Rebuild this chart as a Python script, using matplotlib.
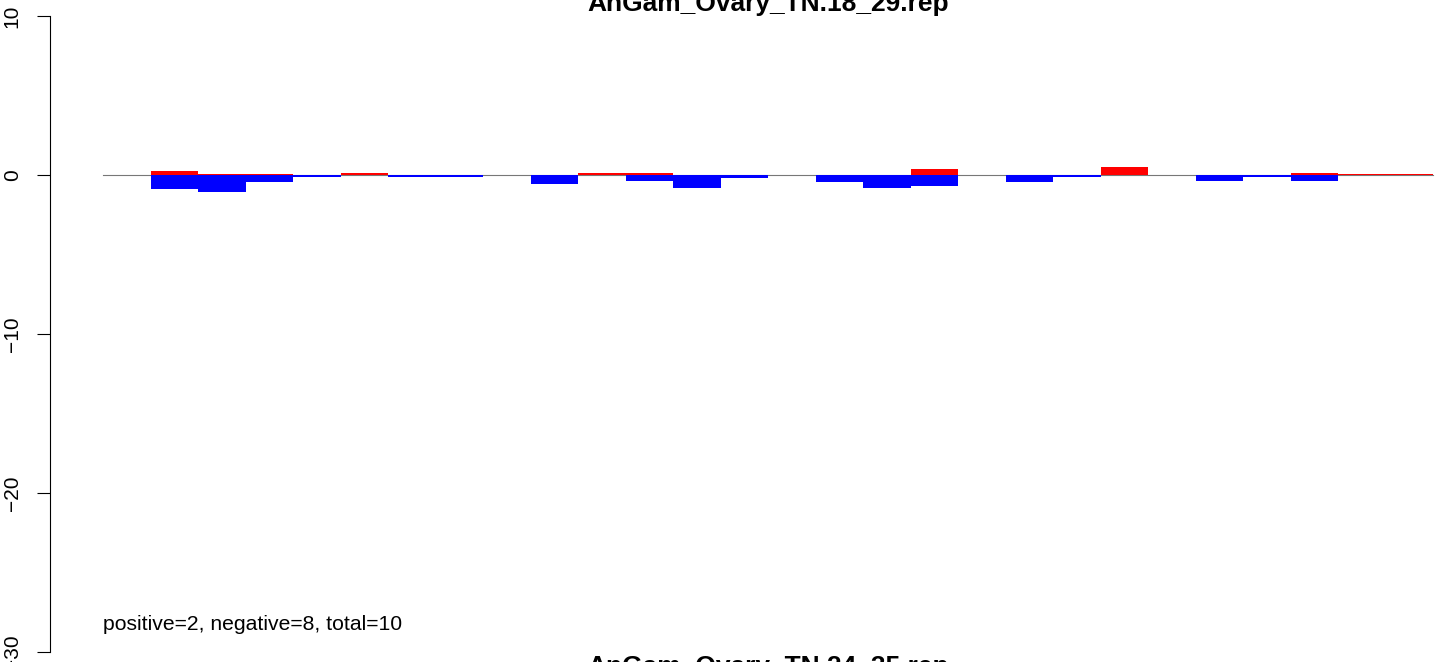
import matplotlib
matplotlib.use("Agg")
import matplotlib.pyplot as plt
import numpy as np

plt.rcParams['font.family'] = ['Liberation Sans', 'DejaVu Sans']

title_top = "AnGam_Ovary_TN.18_29.rep"
title_bottom = "AnGam_Ovary_TN.24_35.rep"
summary = "positive=2, negative=8, total=10"

# per-slot values (28 slots), red = positive part, blue = negative part
pos = [0, 0.25, 0.06, 0.06, 0, 0.1, 0, 0, 0,
       0, 0.1, 0.1, 0, 0, 0,
       0, 0, 0.38, 0,
       0, 0, 0.5, 0,
       0, 0, 0.15, 0.08, 0.08]
neg = [0, -0.88, -1.07, -0.44, -0.12, 0, -0.12, -0.12, 0,
       -0.57, 0, -0.38, -0.8, -0.2, 0,
       -0.44, -0.8, -0.69, 0,
       -0.44, -0.12, 0, 0,
       -0.38, -0.12, -0.38, 0, 0]
yticks = [-30, -20, -10, 0, 10]

W, H = 1444, 662
fig = plt.figure(figsize=(W / 100, H / 100), dpi=100)
ax = fig.add_axes([50 / W, 10 / H, (1440 - 50) / W, 636 / H])

n = len(pos)
slot = (1433 - 103) / n
x = np.arange(n)
ax.plot([0, n], [0, 0], color='#777777', lw=0.8, zorder=1)
ax.bar(x, pos, width=1, align='edge', color='#ff0000', linewidth=0, zorder=2)
ax.bar(x, neg, width=1, align='edge', color='#0000ff', linewidth=0, zorder=2)

ax.set_xlim(-(103 - 50) / slot, n + 7 / slot)
ax.set_ylim(-30, 10)
ax.set_yticks(yticks)
ax.set_yticklabels([str(v).replace('-', '\u2212') for v in yticks],
                   rotation=90, va='center', fontsize=15)
ax.tick_params(axis='y', length=9.4, width=0.8, pad=11)
ax.set_xticks([])
for s in ['top', 'right', 'bottom']:
    ax.spines[s].set_visible(False)
ax.spines['left'].set_bounds(-30, 10)
ax.spines['left'].set_linewidth(0.8)

ax.text(0, 10 - (630 - 16) / 15.9, summary, fontsize=15.2, va='baseline', ha='left')

fig.text(768 / W, 1 - 11 / H, title_top, ha='center', va='baseline',
         fontsize=19, fontweight='bold')
fig.text(768 / W, 1 - 674 / H, title_bottom, ha='center', va='baseline',
         fontsize=19, fontweight='bold')

fig.savefig("out.png", dpi=100)
